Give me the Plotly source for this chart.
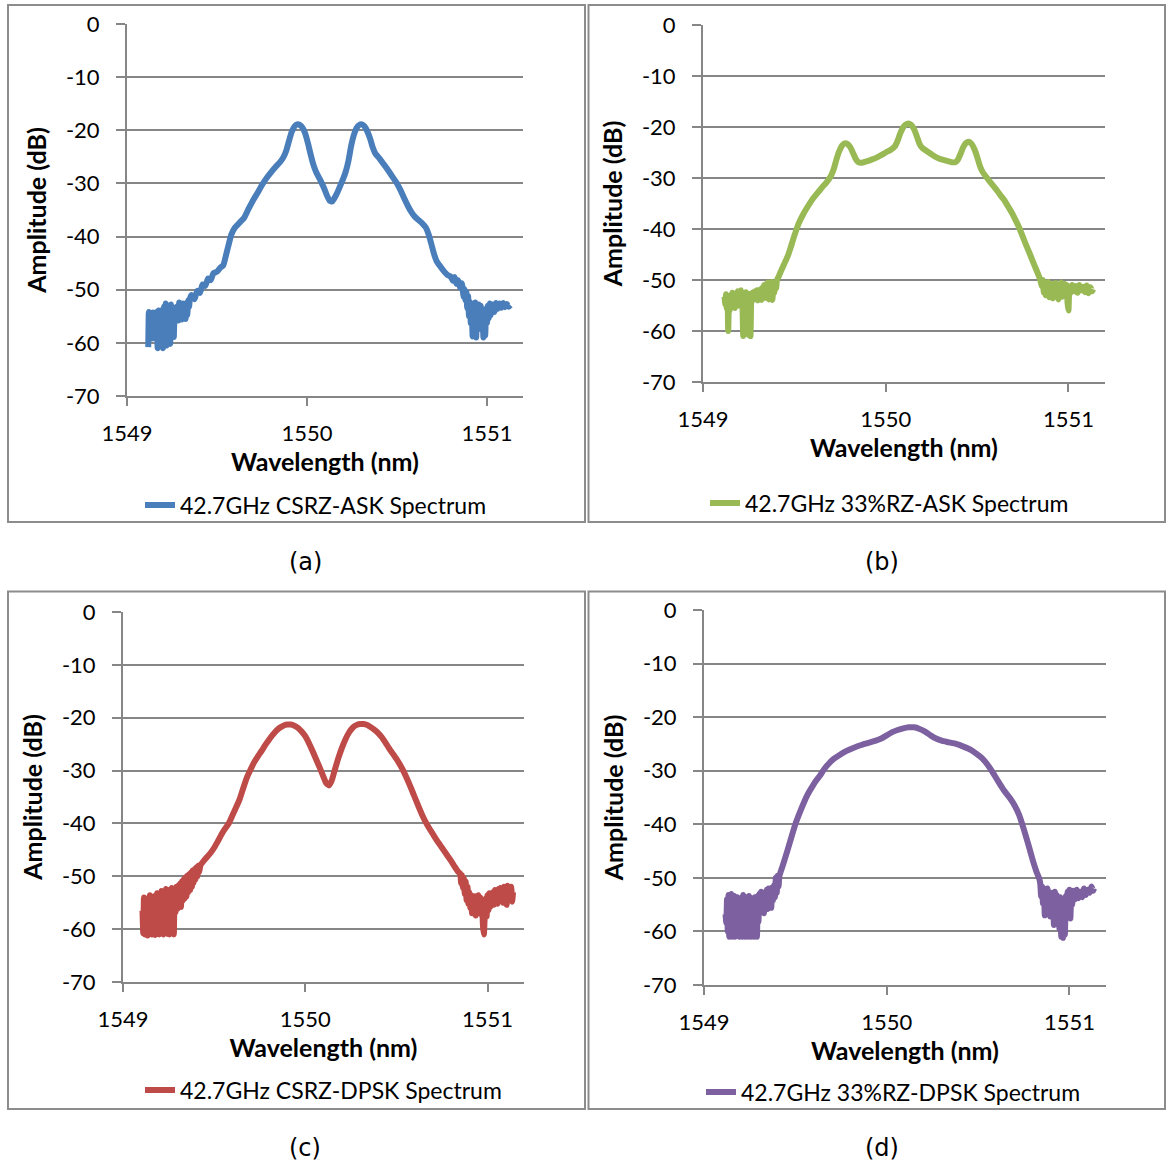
import plotly.graph_objects as go

W, H = 1168, 1162

# ---------------- data ----------------
# (a) 42.7GHz CSRZ-ASK
wl_a = [1549.118, 1549.121, 1549.124, 1549.128, 1549.132, 1549.136, 1549.140, 1549.145, 1549.150, 1549.155,
        1549.160, 1549.165, 1549.170, 1549.175, 1549.180, 1549.185, 1549.190, 1549.195, 1549.200, 1549.205,
        1549.210, 1549.215, 1549.220, 1549.225, 1549.230, 1549.235, 1549.240, 1549.245, 1549.250, 1549.255,
        1549.260, 1549.265, 1549.270, 1549.275, 1549.280, 1549.285, 1549.290, 1549.295, 1549.300, 1549.305,
        1549.310, 1549.315, 1549.320, 1549.325, 1549.330, 1549.335, 1549.340, 1549.345, 1549.350,
        1549.36, 1549.375, 1549.39, 1549.405, 1549.42, 1549.435, 1549.45, 1549.465, 1549.48, 1549.50,
        1549.52, 1549.535, 1549.55, 1549.565, 1549.58, 1549.60, 1549.625, 1549.65, 1549.675, 1549.70,
        1549.725, 1549.75, 1549.775, 1549.80, 1549.825, 1549.85, 1549.87, 1549.885, 1549.90, 1549.915,
        1549.93, 1549.945, 1549.96, 1549.975, 1549.99, 1550.005, 1550.02, 1550.035, 1550.05, 1550.065,
        1550.08, 1550.095, 1550.11, 1550.125, 1550.14, 1550.155, 1550.17, 1550.185, 1550.20, 1550.215,
        1550.23, 1550.245, 1550.26, 1550.275, 1550.29, 1550.305, 1550.32, 1550.335, 1550.35, 1550.365,
        1550.38, 1550.40, 1550.42, 1550.44, 1550.46, 1550.48, 1550.50, 1550.52, 1550.54, 1550.56,
        1550.58, 1550.60, 1550.62, 1550.64, 1550.66, 1550.675, 1550.69, 1550.705, 1550.72, 1550.74,
        1550.76, 1550.78, 1550.80,
        1550.81, 1550.82, 1550.83, 1550.84, 1550.85, 1550.86, 1550.87, 1550.875, 1550.88, 1550.885,
        1550.89, 1550.895, 1550.90, 1550.905, 1550.91, 1550.915, 1550.92, 1550.925, 1550.93, 1550.935,
        1550.94, 1550.945, 1550.95, 1550.955, 1550.96, 1550.965, 1550.97, 1550.975, 1550.98, 1550.985,
        1550.99, 1550.995, 1551.00, 1551.005, 1551.01, 1551.015, 1551.02, 1551.03, 1551.04, 1551.05,
        1551.06, 1551.07, 1551.08, 1551.09, 1551.10, 1551.11, 1551.12, 1551.13]
amp_a = [-60.8, -54.2, -58.5, -54.5, -57.8, -55.0, -59.2, -54.3, -56.9, -54.6,
         -58.1, -54.2, -61.0, -53.9, -60.7, -54.4, -56.3, -53.8, -61.0, -53.2,
         -58.8, -52.6, -60.5, -52.9, -57.7, -53.4, -60.2, -52.8, -55.9, -53.3,
         -58.9, -53.6, -54.9, -55.5, -53.1, -55.8, -52.4, -54.9, -53.0, -55.6,
         -52.6, -54.8, -53.5, -55.5, -52.5, -54.8, -52.0, -53.2, -51.6,
         -51.0, -51.8, -50.2, -50.6, -49.0, -49.3, -47.9, -48.2, -46.9, -46.6,
         -45.8, -45.4, -43.5, -41.5, -39.6, -38.3, -37.4, -36.5, -34.8, -33.2,
         -31.8, -30.3, -29.0, -27.9, -26.9, -26.0, -25.0, -23.8, -22.0, -20.3,
         -19.3, -18.9, -19.0, -19.5, -20.6, -22.4, -24.5, -26.4, -27.8, -28.8,
         -29.8, -30.9, -32.2, -33.2, -33.4, -32.6, -31.6, -30.4, -29.2, -27.8,
         -25.8, -23.0, -20.9, -19.6, -19.0, -18.9, -19.3, -20.2, -21.5, -23.2,
         -24.4, -25.2, -26.1, -27.0, -28.0, -29.0, -30.0, -31.3, -32.8, -34.2,
         -35.4, -36.3, -36.9, -37.5, -38.3, -39.5, -41.3, -43.2, -44.6, -45.6,
         -46.5, -47.2, -47.6,
         -48.3, -47.6, -48.9, -48.2, -49.6, -48.8, -51.3, -49.9, -52.0, -50.4,
         -53.5, -51.2, -55.0, -52.3, -56.3, -53.0, -58.8, -54.0, -57.0, -52.4,
         -59.0, -53.2, -56.5, -52.8, -55.0, -53.0, -57.5, -54.2, -59.0, -55.0,
         -58.6, -53.6, -56.2, -53.0, -55.4, -52.6, -54.8, -52.8, -54.2, -52.5,
         -53.6, -52.6, -53.4, -52.5, -53.3, -52.7, -53.2, -52.9]

# (b) 42.7GHz 33%RZ-ASK
wl_b = [1549.118, 1549.122, 1549.126, 1549.130, 1549.134, 1549.138, 1549.142, 1549.146, 1549.150, 1549.155,
        1549.160, 1549.165, 1549.170, 1549.175, 1549.180, 1549.185, 1549.190, 1549.195, 1549.200, 1549.205,
        1549.210, 1549.215, 1549.220, 1549.225, 1549.230, 1549.235, 1549.240, 1549.245, 1549.250, 1549.255,
        1549.260, 1549.265, 1549.270, 1549.275, 1549.280, 1549.285, 1549.290, 1549.295, 1549.300, 1549.305,
        1549.310, 1549.315, 1549.320, 1549.325, 1549.330, 1549.335, 1549.340, 1549.345, 1549.350, 1549.355,
        1549.360, 1549.365, 1549.370, 1549.375, 1549.380, 1549.385, 1549.390, 1549.395, 1549.400, 1549.405,
        1549.413, 1549.43, 1549.45, 1549.465, 1549.48, 1549.50, 1549.525, 1549.55, 1549.575, 1549.60,
        1549.625, 1549.65, 1549.675, 1549.70, 1549.715, 1549.73, 1549.745, 1549.76, 1549.775, 1549.79,
        1549.805, 1549.82, 1549.835, 1549.85, 1549.87, 1549.89, 1549.91, 1549.93, 1549.95, 1549.97,
        1549.99, 1550.01, 1550.03, 1550.05, 1550.065, 1550.08, 1550.095, 1550.11, 1550.125, 1550.14,
        1550.155, 1550.17, 1550.185, 1550.20, 1550.22, 1550.24, 1550.26, 1550.28, 1550.30, 1550.32,
        1550.34, 1550.36, 1550.38, 1550.395, 1550.41, 1550.425, 1550.44, 1550.455, 1550.47, 1550.485,
        1550.50, 1550.515, 1550.53, 1550.55, 1550.57, 1550.59, 1550.61, 1550.63, 1550.65, 1550.67,
        1550.69, 1550.71, 1550.73, 1550.75, 1550.77, 1550.79, 1550.81, 1550.83, 1550.845,
        1550.855, 1550.86, 1550.865, 1550.87, 1550.875, 1550.88, 1550.885, 1550.89, 1550.895, 1550.90,
        1550.905, 1550.91, 1550.915, 1550.92, 1550.925, 1550.93, 1550.935, 1550.94, 1550.945, 1550.95,
        1550.955, 1550.96, 1550.965, 1550.97, 1550.975, 1550.98, 1550.985, 1550.99, 1550.995, 1551.00,
        1551.005, 1551.01, 1551.02, 1551.03, 1551.04, 1551.05, 1551.06, 1551.07, 1551.08, 1551.09,
        1551.10, 1551.11, 1551.12, 1551.13, 1551.135]
amp_b = [-53.3, -54.8, -52.8, -55.6, -53.2, -60.0, -54.0, -56.0, -53.0, -55.4,
         -52.5, -54.9, -53.0, -55.5, -52.6, -54.5, -52.2, -55.0, -52.8, -54.2,
         -52.0, -53.8, -61.0, -53.0, -55.6, -52.4, -54.6, -52.7, -60.8, -53.0,
         -61.0, -52.6, -54.0, -52.4, -53.8, -52.2, -53.6, -52.0, -54.0, -52.1,
         -53.2, -51.8, -53.9, -51.5, -52.8, -51.0, -53.5, -50.8, -52.2, -50.5,
         -53.8, -50.9, -52.0, -50.4, -53.9, -50.8, -52.5, -50.6, -51.6, -50.0,
         -49.4, -48.0, -46.4, -45.2, -43.6, -41.3, -38.8, -37.0, -35.5, -34.1,
         -33.0, -31.9, -30.9, -29.6, -28.3, -26.4, -24.8, -23.7, -23.2, -23.3,
         -23.9, -25.0, -26.2, -26.9, -27.0, -26.8, -26.6, -26.3, -26.0, -25.6,
         -25.2, -24.8, -24.4, -23.8, -22.7, -21.2, -20.1, -19.5, -19.3, -19.6,
         -20.4, -21.8, -23.3, -24.1, -24.6, -25.1, -25.6, -26.0, -26.3, -26.5,
         -26.7, -26.9, -26.9, -26.4, -25.2, -23.9, -23.1, -22.9, -23.3, -24.3,
         -25.8, -27.6, -28.8, -29.8, -30.7, -31.6, -32.5, -33.5, -34.4, -35.6,
         -36.8, -38.2, -39.7, -41.5, -43.3, -45.0, -46.8, -48.5, -49.9,
         -51.2, -50.0, -52.5, -50.6, -53.0, -51.0, -52.8, -50.4, -53.4, -51.2,
         -52.4, -50.8, -53.6, -51.0, -52.9, -50.6, -52.2, -51.1, -53.8, -51.4,
         -52.6, -50.5, -53.3, -51.0, -52.2, -50.8, -53.0, -51.0, -54.5, -56.0,
         -51.4, -52.6, -51.0, -52.2, -51.2, -52.5, -51.0, -52.0, -51.3, -52.4,
         -51.1, -52.6, -51.4, -52.2, -51.8]

# (c) 42.7GHz CSRZ-DPSK
wl_c = [1549.107, 1549.111, 1549.115, 1549.119, 1549.123, 1549.127, 1549.131, 1549.135, 1549.139, 1549.143,
        1549.147, 1549.151, 1549.155, 1549.159, 1549.163, 1549.167, 1549.171, 1549.175, 1549.179, 1549.183,
        1549.187, 1549.191, 1549.195, 1549.199, 1549.203, 1549.207, 1549.211, 1549.215, 1549.219, 1549.223,
        1549.227, 1549.231, 1549.235, 1549.239, 1549.243, 1549.247, 1549.251, 1549.255, 1549.259, 1549.263,
        1549.267, 1549.271, 1549.275, 1549.279, 1549.283, 1549.288, 1549.293, 1549.298, 1549.303, 1549.308,
        1549.313, 1549.318, 1549.323, 1549.328, 1549.333, 1549.338, 1549.343, 1549.348, 1549.353, 1549.358,
        1549.363, 1549.368, 1549.373, 1549.378, 1549.383, 1549.388, 1549.393, 1549.398, 1549.403, 1549.408,
        1549.413, 1549.418,
        1549.425, 1549.44, 1549.46, 1549.48, 1549.50, 1549.52, 1549.54, 1549.56, 1549.58, 1549.60,
        1549.62, 1549.64, 1549.66, 1549.68, 1549.70, 1549.72, 1549.74, 1549.76, 1549.78, 1549.80,
        1549.82, 1549.84, 1549.86, 1549.88, 1549.90, 1549.92, 1549.94, 1549.96, 1549.98, 1550.00,
        1550.02, 1550.04, 1550.06, 1550.08, 1550.10, 1550.115, 1550.13, 1550.145, 1550.16, 1550.18,
        1550.20, 1550.22, 1550.24, 1550.26, 1550.28, 1550.30, 1550.32, 1550.34, 1550.36, 1550.38,
        1550.40, 1550.42, 1550.44, 1550.46, 1550.48, 1550.50, 1550.52, 1550.54, 1550.56, 1550.58,
        1550.60, 1550.62, 1550.64, 1550.66, 1550.68, 1550.70, 1550.72, 1550.74, 1550.76, 1550.78,
        1550.80, 1550.82, 1550.84,
        1550.85, 1550.855, 1550.86, 1550.865, 1550.87, 1550.875, 1550.88, 1550.885, 1550.89, 1550.895,
        1550.90, 1550.905, 1550.91, 1550.915, 1550.92, 1550.925, 1550.93, 1550.935, 1550.94, 1550.945,
        1550.95, 1550.955, 1550.96, 1550.965, 1550.97, 1550.975, 1550.98, 1550.985, 1550.99, 1550.995,
        1551.00, 1551.005, 1551.01, 1551.015, 1551.02, 1551.025, 1551.03, 1551.035, 1551.04, 1551.045,
        1551.05, 1551.055, 1551.06, 1551.065, 1551.07, 1551.075, 1551.08, 1551.085, 1551.09, 1551.095,
        1551.10, 1551.105, 1551.11, 1551.115, 1551.12, 1551.125, 1551.13, 1551.135, 1551.14]
amp_c = [-56.5, -60.8, -54.0, -61.0, -55.5, -60.5, -54.2, -61.2, -56.0, -60.9,
         -53.6, -59.8, -55.2, -61.0, -54.5, -60.6, -53.8, -61.1, -55.0, -60.2,
         -53.2, -60.9, -54.6, -61.0, -53.5, -59.6, -52.8, -60.7, -54.0, -61.0,
         -53.0, -60.3, -52.4, -59.8, -53.6, -60.9, -52.6, -61.0, -53.4, -60.4,
         -52.2, -60.8, -53.5, -61.0, -52.4, -56.8, -52.0, -56.2, -51.8, -55.5,
         -51.4, -55.8, -51.0, -54.6, -50.6, -54.2, -50.2, -53.8, -49.9, -53.0,
         -49.6, -52.6, -49.3, -52.0, -48.9, -51.2, -48.6, -50.6, -48.3, -50.0,
         -48.0, -49.2,
         -47.9, -47.2, -46.4, -45.6, -44.6, -43.4, -42.1, -41.0, -40.0, -38.5,
         -37.0, -35.4, -33.3, -31.3, -29.8, -28.4, -27.3, -26.3, -25.2, -24.2,
         -23.3, -22.5, -21.9, -21.5, -21.3, -21.3, -21.5, -21.9, -22.6, -23.5,
         -24.8, -26.3, -27.9, -29.5, -31.2, -32.4, -32.8, -31.9, -30.1, -27.8,
         -25.8, -24.1, -22.8, -21.9, -21.4, -21.2, -21.2, -21.4, -21.8, -22.3,
         -22.9, -23.7, -24.7, -25.8, -26.8, -27.8, -28.9, -30.2, -31.7, -33.3,
         -35.0, -36.7, -38.3, -39.7, -40.9, -42.0, -43.1, -44.1, -45.1, -46.1,
         -47.1, -48.2, -49.2,
         -49.5, -51.3, -49.8, -52.2, -50.4, -53.4, -51.0, -54.5, -52.0, -55.2,
         -53.0, -56.0, -53.6, -57.0, -54.0, -56.4, -53.8, -57.4, -54.2, -56.8,
         -53.6, -56.2, -54.0, -57.2, -55.0, -59.5, -61.0, -57.0, -54.2, -57.6,
         -53.6, -56.4, -53.2, -55.8, -53.4, -55.0, -53.0, -55.4, -52.6, -54.8,
         -52.8, -55.2, -52.4, -54.6, -52.2, -54.0, -52.6, -55.0, -52.0, -54.4,
         -52.4, -55.4, -51.8, -54.6, -52.2, -53.8, -52.0, -54.8, -53.0]

# (d) 42.7GHz 33%RZ-DPSK
wl_d = [1549.118, 1549.122, 1549.126, 1549.130, 1549.134, 1549.138, 1549.142, 1549.146, 1549.150, 1549.154,
        1549.158, 1549.162, 1549.166, 1549.170, 1549.174, 1549.178, 1549.182, 1549.186, 1549.190, 1549.194,
        1549.198, 1549.202, 1549.206, 1549.210, 1549.214, 1549.218, 1549.222, 1549.226, 1549.230, 1549.234,
        1549.238, 1549.242, 1549.246, 1549.250, 1549.254, 1549.258, 1549.262, 1549.266, 1549.270, 1549.274,
        1549.278, 1549.282, 1549.286, 1549.290, 1549.294, 1549.298, 1549.303, 1549.308, 1549.313, 1549.318,
        1549.323, 1549.328, 1549.333, 1549.338, 1549.343, 1549.348, 1549.353, 1549.358, 1549.363, 1549.368,
        1549.373, 1549.378, 1549.383, 1549.388, 1549.393, 1549.398, 1549.403, 1549.408,
        1549.413, 1549.43, 1549.454, 1549.48, 1549.505, 1549.53, 1549.55, 1549.566, 1549.59, 1549.61,
        1549.637, 1549.66, 1549.685, 1549.71, 1549.74, 1549.78, 1549.82, 1549.86, 1549.90, 1549.94,
        1549.97, 1550.00, 1550.03, 1550.06, 1550.09, 1550.12, 1550.15, 1550.18, 1550.21, 1550.24,
        1550.27, 1550.30, 1550.34, 1550.38, 1550.42, 1550.46, 1550.49, 1550.52, 1550.55, 1550.58,
        1550.61, 1550.64, 1550.674, 1550.70, 1550.725, 1550.75, 1550.776, 1550.80, 1550.82, 1550.835,
        1550.84, 1550.845, 1550.85, 1550.855, 1550.86, 1550.865, 1550.87, 1550.875, 1550.88, 1550.885,
        1550.89, 1550.895, 1550.90, 1550.905, 1550.91, 1550.915, 1550.92, 1550.925, 1550.93, 1550.935,
        1550.94, 1550.945, 1550.95, 1550.955, 1550.96, 1550.965, 1550.97, 1550.975, 1550.98, 1550.985,
        1550.99, 1550.995, 1551.00, 1551.005, 1551.01, 1551.015, 1551.02, 1551.03, 1551.04, 1551.05,
        1551.06, 1551.07, 1551.08, 1551.09, 1551.10, 1551.11, 1551.12, 1551.13, 1551.135]
amp_d = [-56.8, -58.5, -54.0, -60.0, -53.2, -61.0, -54.5, -60.6, -53.0, -61.0,
         -55.0, -60.2, -53.4, -61.0, -54.2, -59.6, -53.6, -60.8, -55.2, -61.0,
         -53.8, -60.4, -54.4, -61.0, -53.2, -59.8, -54.6, -61.0, -53.6, -60.6,
         -54.8, -61.0, -53.4, -60.2, -54.0, -61.0, -53.8, -60.8, -54.2, -61.0,
         -53.6, -60.4, -54.0, -61.0, -53.4, -58.2, -53.0, -56.2, -52.6, -55.8,
         -53.0, -56.6, -52.8, -55.2, -52.2, -55.8, -52.0, -54.4, -52.4, -55.6,
         -51.8, -54.2, -51.4, -53.6, -50.0, -52.8, -49.6, -51.6,
         -49.6, -47.8, -45.2, -42.2, -39.5, -37.3, -35.7, -34.5, -33.1, -32.0,
         -30.8, -29.6, -28.6, -27.8, -27.1, -26.3, -25.7, -25.2, -24.8, -24.4,
         -24.0, -23.4, -22.8, -22.4, -22.1, -21.9, -21.9, -22.2, -22.7, -23.4,
         -24.0, -24.4, -24.7, -25.0, -25.5, -26.1, -26.8, -27.6, -28.8, -30.3,
         -32.0, -33.6, -35.1, -36.5, -38.3, -40.9, -43.9, -46.8, -48.9, -50.2,
         -51.0, -53.5, -51.6, -54.8, -52.0, -57.0, -52.4, -56.6, -52.0, -55.0,
         -53.6, -57.2, -52.8, -56.0, -53.0, -58.8, -52.6, -56.4, -53.2, -57.8,
         -54.0, -59.5, -53.6, -61.0, -54.6, -61.2, -55.2, -60.6, -53.4, -57.0,
         -52.6, -56.0, -52.2, -57.6, -53.0, -55.0, -52.4, -54.0, -52.2, -53.8,
         -52.6, -53.6, -52.0, -53.2, -52.2, -52.8, -51.6, -52.4, -52.0]

names = ["42.7GHz CSRZ-ASK Spectrum", "42.7GHz 33%RZ-ASK Spectrum",
         "42.7GHz CSRZ-DPSK Spectrum", "42.7GHz 33%RZ-DPSK Spectrum"]
colors = ["#4A7EBB", "#98B954", "#BE4B48", "#7D60A0"]
captions = ["(a)", "(b)", "(c)", "(d)"]
y_ticks = [0, -10, -20, -30, -40, -50, -60, -70]
x_ticks = [1549, 1550, 1551]
x_range = [1549, 1551.2]
y_range = [-70, 0]

# ---------------- layout geometry (pixels) ----------------
# plot areas: x0, x1, ytop, ybottom
areas = [(127, 523, 24, 396), (703, 1105, 25, 382),
         (123, 524, 612, 982), (704, 1106, 610, 985)]
boxes = [(8, 585, 5, 522), (588.5, 1165, 5, 522),
         (8, 585, 591.5, 1109), (588.5, 1165, 591.5, 1109)]
legend_pos = [(140, 505), (705, 503), (140, 1090), (701, 1092)]
caption_pos = [(305, 562), (882, 562), (305, 1148), (882, 1148)]

FONT = "Lato"
GRID = "#868686"

fig = go.Figure()
series = [(wl_a, amp_a), (wl_b, amp_b), (wl_c, amp_c), (wl_d, amp_d)]
layout = dict(width=W, height=H,
              margin=dict(l=0, r=0, t=0, b=0, autoexpand=False),
              paper_bgcolor="white", plot_bgcolor="white", showlegend=True)
shapes, annotations = [], []

for i, ((wl, amp), name, col) in enumerate(zip(series, names, colors)):
    k = "" if i == 0 else str(i + 1)
    lg = "legend" if i == 0 else f"legend{i + 1}"
    fig.add_trace(go.Scatter(x=wl, y=amp, mode="lines", name=name,
                             line=dict(color=col, width=6, shape="spline", smoothing=0.5),
                             xaxis="x" + k, yaxis="y" + k, legend=lg))
    x0, x1, yt, yb = areas[i]
    layout["xaxis" + k] = dict(
        domain=[x0 / W, x1 / W], range=x_range, tickvals=x_ticks,
        ticktext=[str(v) for v in x_ticks], showgrid=False, zeroline=False,
        showline=True, linecolor=GRID, linewidth=2, ticks="outside", ticklen=8,
        tickwidth=2, tickcolor=GRID, anchor="y" + k,
        tickfont=dict(family=FONT, size=22, color="black"), ticklabelstandoff=9,
        title=dict(text="<b>Wavelength (nm)</b>", standoff=2,
                   font=dict(family=FONT, size=25, color="black")))
    layout["yaxis" + k] = dict(
        domain=[1 - yb / H, 1 - yt / H], range=y_range, tickvals=y_ticks,
        ticktext=[str(v) for v in y_ticks],
        showgrid=True, gridcolor=GRID, gridwidth=2, zeroline=False,
        showline=True, linecolor=GRID, linewidth=2, ticks="outside", ticklen=9,
        tickwidth=2, tickcolor=GRID, anchor="x" + k,
        tickfont=dict(family=FONT, size=22, color="black"), ticklabelstandoff=12,
        title=dict(text="<b>Amplitude (dB)</b>", standoff=12,
                   font=dict(family=FONT, size=25, color="black")))
    lx, ly = legend_pos[i]
    layout[lg] = dict(x=lx / W, y=1 - ly / H, xanchor="left", yanchor="middle",
                      bgcolor="rgba(0,0,0,0)", borderwidth=0,
                      font=dict(family=FONT, size=23, color="black"))
    bx0, bx1, by0, by1 = boxes[i]
    shapes.append(dict(type="rect", xref="paper", yref="paper",
                       x0=bx0 / W, x1=bx1 / W, y0=1 - by1 / H, y1=1 - by0 / H,
                       line=dict(color="#8C8C8C", width=2), fillcolor="rgba(0,0,0,0)"))
    cx, cy = caption_pos[i]
    annotations.append(dict(text=captions[i], xref="paper", yref="paper",
                            x=cx / W, y=1 - cy / H, showarrow=False,
                            xanchor="center", yanchor="middle",
                            font=dict(family="DejaVu Sans", size=24, color="black")))

layout["shapes"] = shapes
layout["annotations"] = annotations
fig.update_layout(**layout)
fig.write_html("out.html")
